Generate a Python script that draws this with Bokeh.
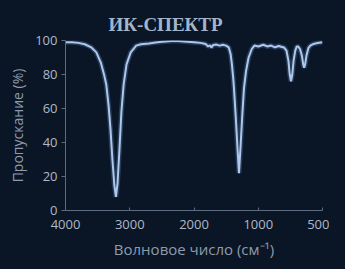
import numpy as np
from bokeh.plotting import figure
from bokeh.models import FixedTicker, GlobalInlineStyleSheet
from bokeh.embed import file_html
from bokeh.resources import INLINE

# tick labels of the (piecewise) wavenumber axis
x_tick_labels = [4000, 3000, 2000, 1000, 500]
y_ticks = [0, 20, 40, 60, 80, 100]

# IR spectrum: wavenumber (cm^-1) and transmittance (%)
wavenumber = [4000, 3900, 3800, 3700, 3600, 3520, 3450, 3400, 3365, 3330, 3300,
              3270, 3240, 3215, 3190, 3160, 3130, 3095, 3050, 2985, 2900, 2825,
              2700, 2600, 2500, 2400, 2300, 2200, 2100, 2000, 1900, 1820, 1780,
              1750, 1730, 1700, 1650, 1600, 1550, 1500, 1460, 1430, 1410, 1390,
              1378, 1350, 1325, 1300, 1275, 1250, 1222, 1190, 1150, 1100, 1060,
              1000, 960, 930, 900, 870, 840, 810, 800, 780, 765, 755, 745, 735,
              725, 712, 700, 690, 675, 660, 650, 643, 635, 625, 610, 595, 570,
              540, 500]
transmittance = [99, 99, 98.6, 97.8, 96, 93, 87, 80, 74, 62, 48,
                 30, 15, 8, 16, 36, 58, 74, 86, 93, 97, 97.8,
                 98.3, 98.8, 99.3, 99.6, 99.8, 99.6, 99.3, 99, 98.6, 98, 96.5,
                 97.2, 95.8, 97.4, 97.6, 97, 97.5, 97, 96, 92, 86, 78,
                 72, 55, 38, 22, 38, 55, 72, 82, 90, 95, 97,
                 96.5, 97.5, 96.5, 97, 96, 96.8, 96, 96, 94, 88, 80, 76, 80,
                 88, 94, 96.5, 96.5, 95, 91, 86, 84, 86, 91, 95.5, 97, 98,
                 98.5, 99]

# axis position of each tick label (equally spaced ticks)
tick_pos = list(range(len(x_tick_labels)))
xpos = np.interp(wavenumber, x_tick_labels[::-1], tick_pos[::-1])

BG = "#0a1626"

p = figure(width=329, height=261, output_backend="svg", toolbar_location=None,
           x_range=(0, 4), y_range=(0, 100),
           min_border_left=65, min_border_right=7, min_border_top=40,
           min_border_bottom=51)
p.stylesheets = [GlobalInlineStyleSheet(
    css=f"html, body {{ background-color: {BG}; overflow: hidden; }}")]
p.background_fill_color = BG
p.border_fill_color = BG
p.outline_line_color = None
p.grid.visible = False

p.title.text = "ИК-СПЕКТР"
p.title.align = "left"
p.title.offset = 43
p.title.standoff = 11
p.title.text_font = "Liberation Serif"
p.title.text_font_style = "bold"
p.title.text_font_size = "19px"
p.title.text_color = "#a3b5cc"

# glow + main line
p.line(xpos, transmittance, line_color="#5f8fd0", line_width=5, line_alpha=0.3)
p.line(xpos, transmittance, line_color="#b0c8e8", line_width=2)

axis_col = "#5d6b80"
lab_col = "#b0b8c6"
for ax in (p.xaxis[0], p.yaxis[0]):
    ax.axis_line_color = axis_col
    ax.major_tick_line_color = axis_col
    ax.minor_tick_line_color = None
    ax.major_label_text_color = lab_col
    ax.major_label_text_font = "Open Sans"
    ax.major_label_text_font_size = "13px"
    ax.axis_label_text_color = "#8f9bad"
    ax.axis_label_text_font = "Open Sans"
    ax.axis_label_text_font_style = "normal"

p.xaxis.ticker = FixedTicker(ticks=tick_pos)
p.xaxis.major_label_overrides = {i: str(v) for i, v in zip(tick_pos, x_tick_labels)}
p.xaxis.major_tick_in = 3
p.xaxis.major_tick_out = 0
p.xaxis.major_label_standoff = 9
p.xaxis.axis_label = "Волновое число (см⁻¹)"
p.xaxis.axis_label_text_font_size = "15px"
p.xaxis.axis_label_standoff = 7

p.yaxis.ticker = FixedTicker(ticks=y_ticks)
p.yaxis.major_tick_in = 0
p.yaxis.major_tick_out = 4
p.yaxis.major_label_standoff = 4
p.yaxis.axis_label = "Пропускание (%)"
p.yaxis.axis_label_text_font_size = "14px"
p.yaxis.axis_label_standoff = 5

open("out.html", "w").write(file_html(p, INLINE))
